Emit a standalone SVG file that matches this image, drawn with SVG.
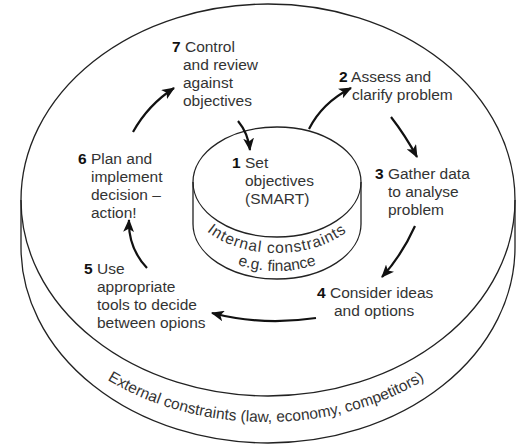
<svg xmlns="http://www.w3.org/2000/svg" width="519" height="448" viewBox="0 0 519 448">
  <defs>
    <style>
      .rim { fill: none; stroke: #222; stroke-width: 1.3; }
      .lbl { font-family: "Liberation Sans", Arial, sans-serif; font-size: 15.5px; fill: #333; }
      .num { font-weight: bold; fill: #111; }
      .arrow { fill: none; stroke: #111; stroke-width: 2.2; marker-end: url(#head); }
    </style>
    <marker id="head" viewBox="0 0 12 10" refX="11" refY="5" markerWidth="13" markerHeight="11" markerUnits="userSpaceOnUse" orient="auto">
      <path d="M0,0 L12,5 L0,10 L3,5 z" fill="#111"/>
    </marker>
    <!-- baselines for the curved captions -->
    <path id="innerCurve" d="M 189,198 A 88,55 0 0 0 365,198"/>
    <path id="innerCurve2" d="M 193,216 A 84,55 0 0 0 361,216"/>
    <path id="outerCurve" d="M 16,236 A 250,186 0 0 0 516,236"/>
  </defs>

  <rect width="519" height="448" fill="#fff"/>

  <!-- outer cylinder: external environment -->
  <g id="outer-cylinder">
    <ellipse class="rim" cx="268" cy="200" rx="247" ry="196"/>
    <path class="rim" d="M 21,200 L 21,247 A 247,196 0 0 0 515,247 L 515,200"/>
    <text class="lbl"><textPath href="#outerCurve" startOffset="50%" text-anchor="middle">External constraints (law, economy, competitors)</textPath></text>
  </g>

  <!-- inner cylinder: objectives -->
  <g id="node-1">
    <ellipse class="rim" cx="277" cy="182" rx="84" ry="55"/>
    <path class="rim" d="M 193,182 L 193,224 A 84,55 0 0 0 361,224 L 361,182"/>
    <text class="lbl" x="232" y="168"><tspan class="num">1</tspan> Set</text>
    <text class="lbl" x="245" y="186">objectives</text>
    <text class="lbl" x="245" y="204">(SMART)</text>
    <text class="lbl" letter-spacing="0.9"><textPath href="#innerCurve" startOffset="50%" text-anchor="middle">Internal constraints</textPath></text>
    <text class="lbl"><textPath href="#innerCurve2" startOffset="50%" text-anchor="middle">e.g. finance</textPath></text>
  </g>

  <g id="node-2">
    <text class="lbl" x="339" y="82"><tspan class="num">2</tspan> Assess and</text>
    <text class="lbl" x="352" y="100">clarify problem</text>
  </g>

  <g id="node-3">
    <text class="lbl" x="375" y="179"><tspan class="num">3</tspan> Gather data</text>
    <text class="lbl" x="388" y="197">to analyse</text>
    <text class="lbl" x="388" y="215">problem</text>
  </g>

  <g id="node-4">
    <text class="lbl" x="317" y="298"><tspan class="num">4</tspan> Consider ideas</text>
    <text class="lbl" x="334" y="316">and options</text>
  </g>

  <g id="node-5">
    <text class="lbl" x="84" y="274"><tspan class="num">5</tspan> Use</text>
    <text class="lbl" x="97" y="292">appropriate</text>
    <text class="lbl" x="97" y="310">tools to decide</text>
    <text class="lbl" x="97" y="328">between opions</text>
  </g>

  <g id="node-6">
    <text class="lbl" x="78" y="164"><tspan class="num">6</tspan> Plan and</text>
    <text class="lbl" x="91" y="182">implement</text>
    <text class="lbl" x="91" y="200">decision –</text>
    <text class="lbl" x="91" y="218">action!</text>
  </g>

  <g id="node-7">
    <text class="lbl" x="172" y="52"><tspan class="num">7</tspan> Control</text>
    <text class="lbl" x="183" y="70">and review</text>
    <text class="lbl" x="183" y="88">against</text>
    <text class="lbl" x="183" y="106">objectives</text>
  </g>

  <!-- cycle connectors -->
  <g id="connectors">
    <path class="arrow" d="M 238,121 Q 248,133 250,150"/>
    <path class="arrow" d="M 309,129 Q 322,103 351,88"/>
    <path class="arrow" d="M 391,117 Q 405,135 417,157"/>
    <path class="arrow" d="M 415,226 Q 402,255 382,277"/>
    <path class="arrow" d="M 316,318 Q 262,326 212,313"/>
    <path class="arrow" d="M 147,268 Q 128,248 129,220"/>
    <path class="arrow" d="M 133,132 Q 148,105 174,88"/>
  </g>
</svg>
